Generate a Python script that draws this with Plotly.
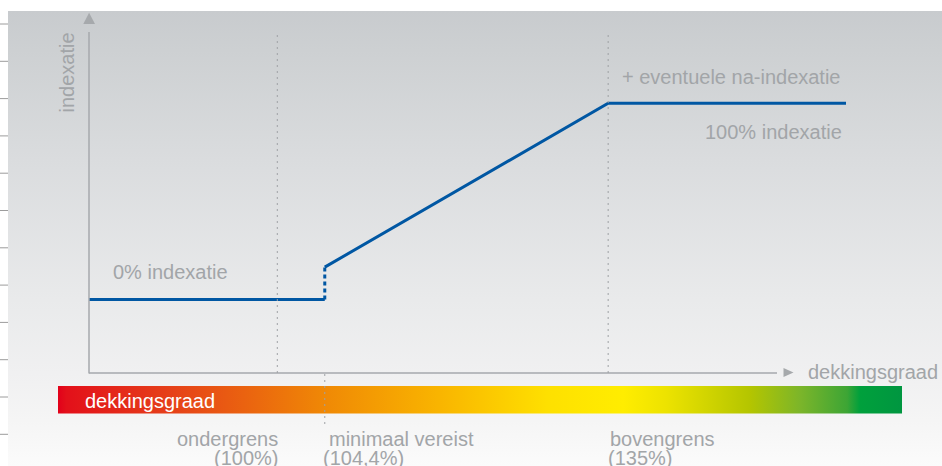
import math
import plotly.graph_objects as go

# Funding ratio (dekkingsgraad, %) against indexation (%) for the indexation policy line
dg_solid_low = [84.3, 104.4]
idx_solid_low = [0, 0]
dg_jump = [104.4, 104.4]
idx_jump = [0, 16.5]
dg_solid_high = [104.4, 135, 167.5]
idx_solid_high = [16.5, 100, 100]

# Thresholds on the funding-ratio axis
threshold_names = ["ondergrens", "minimaal vereist", "bovengrens"]
threshold_labels = ["(100%)", "(104,4%)", "(135%)"]
threshold_values = [100, 104.4, 135]

# Colour band along the funding-ratio axis
band_stops = [0.0, 0.01, 0.12, 0.22, 0.32, 0.45, 0.58, 0.67, 0.72, 0.82, 0.88, 0.935, 0.95, 1.0]
band_colors = ["#e2001a", "#e3101a", "#e53b1a", "#ea6210", "#f08a05", "#f9b400", "#fee000",
               "#ffed00", "#ede300", "#b4c500", "#7bb52a", "#3da535", "#00a03c", "#009640"]

W, H = 942, 466
GREY_TXT = "#a2a5a8"
AXIS_CLR = "#a6a9ac"
FONT = "Liberation Sans, Arial, Helvetica, sans-serif"

fig = go.Figure()

# Page background panel with a soft vertical grey gradient
fig.add_trace(go.Scatter(
    x=[8, W, W, 8, 8], y=[11, 11, H, H, 11], xaxis="x", yaxis="y",
    mode="lines", line=dict(width=0), fill="toself", hoverinfo="skip",
    fillgradient=dict(type="vertical", start=11, stop=H,
                      colorscale=[[0, "#c8cbce"], [0.086, "#cdd0d2"], [0.327, "#dadcde"],
                                  [0.635, "#e9eaeb"], [0.796, "#f0f0f1"], [0.9, "#f5f5f5"],
                                  [1, "#fbfbfb"]]),
))

# Red-to-green funding-ratio band
fig.add_trace(go.Scatter(
    x=[58, 902, 902, 58, 58], y=[386, 386, 413.5, 413.5, 386], xaxis="x", yaxis="y",
    mode="lines", line=dict(width=0), fill="toself", hoverinfo="skip",
    fillgradient=dict(type="horizontal", start=58, stop=902,
                      colorscale=[[s, c] for s, c in zip(band_stops, band_colors)]),
))

BLUE = "#0057a3"
fig.add_trace(go.Scatter(x=dg_solid_low, y=idx_solid_low, xaxis="x2", yaxis="y2",
                         mode="lines", line=dict(color=BLUE, width=3), hoverinfo="skip"))
fig.add_trace(go.Scatter(x=dg_jump, y=idx_jump, xaxis="x2", yaxis="y2",
                         mode="lines", line=dict(color=BLUE, width=3, dash="4px,3px"),
                         hoverinfo="skip"))
fig.add_trace(go.Scatter(x=dg_solid_high, y=idx_solid_high, xaxis="x2", yaxis="y2",
                         mode="lines", line=dict(color=BLUE, width=3), hoverinfo="skip"))

shapes = []
# Ruler marks along the left page edge
for k in range(12):
    yy = 24 + k * 37.3
    shapes.append(dict(type="line", xref="x", yref="y", x0=0, x1=8, y0=yy, y1=yy,
                       line=dict(color="#9c9c9c", width=1), layer="above"))

# Axis lines with arrowheads
shapes += [
    dict(type="line", xref="x", yref="y", x0=89, x1=89, y0=32, y1=373.5,
         line=dict(color=AXIS_CLR, width=1.5), layer="above"),
    dict(type="line", xref="x", yref="y", x0=89, x1=777, y0=373, y1=373,
         line=dict(color=AXIS_CLR, width=1.5), layer="above"),
    dict(type="path", xref="x", yref="y", path="M 83.3 24 L 89.1 12.7 L 95 24 Z",
         fillcolor=AXIS_CLR, line=dict(width=0), layer="above"),
    dict(type="path", xref="x", yref="y", path="M 783.5 368 L 793.5 372.5 L 783.5 377 Z",
         fillcolor=AXIS_CLR, line=dict(width=0), layer="above"),
]

# Dotted threshold guides
dot = dict(color="#9fa2a5", width=1, dash="2px,4px")
shapes.append(dict(type="line", xref="x2", yref="y2 domain", x0=threshold_values[0],
                   x1=threshold_values[0], y0=0, y1=1, line=dot, layer="above"))
shapes.append(dict(type="line", xref="x2", yref="y", x0=threshold_values[1],
                   x1=threshold_values[1], y0=374, y1=424, line=dot, layer="above"))
shapes.append(dict(type="line", xref="x2", yref="y2 domain", x0=threshold_values[2],
                   x1=threshold_values[2], y0=0, y1=1, line=dot, layer="above"))

ann = []


def txt(text, x, y, xanchor, xref="x", color=GREY_TXT, size=20, xshift=0, angle=0):
    ann.append(dict(text=text, x=x, y=y, xref=xref, yref="y", xanchor=xanchor,
                    yanchor="middle", showarrow=False, xshift=xshift, textangle=angle,
                    font=dict(family=FONT, size=size, color=color)))


txt("indexatie", 66, 72.5, "center", angle=-90)
txt("0% indexatie", 111, 272, "left")
txt("+ eventuele na-indexatie", 843, 76.5, "right")
txt("100% indexatie", 844, 131.5, "right")
txt("dekkingsgraad", 806, 372, "left")
txt("dekkingsgraad", 83, 400.5, "left", color="#ffffff")

# Annotation positions on a log axis are given in log10 units
name_shift = [3, 2, 0]
label_shift = [3, -4, -2]
for i, (nm, lb, v) in enumerate(zip(threshold_names, threshold_labels, threshold_values)):
    anchor = "right" if i == 0 else "left"
    txt(nm, math.log10(v), 438.5, anchor, xref="x2", xshift=name_shift[i])
    txt(lb, math.log10(v), 457.5, anchor, xref="x2", xshift=label_shift[i])

y_lo, y_hi = -37.46, 136.34
fig.update_layout(
    width=W, height=H, margin=dict(l=0, r=0, t=0, b=0),
    paper_bgcolor="#ffffff", plot_bgcolor="rgba(0,0,0,0)",
    showlegend=False, hovermode=False,
    xaxis=dict(domain=[0, 1], range=[0, W], visible=False, fixedrange=True),
    yaxis=dict(domain=[0, 1], range=[H, 0], visible=False, fixedrange=True),
    xaxis2=dict(domain=[89 / W, 846 / W], type="log", anchor="y2", visible=False,
                range=[math.log10(dg_solid_low[0]), math.log10(dg_solid_high[-1])],
                fixedrange=True),
    yaxis2=dict(domain=[93 / H, 434 / H], range=[y_lo, y_hi], anchor="x2",
                visible=False, fixedrange=True),
    shapes=shapes, annotations=ann,
)

fig.write_html("out.html", config={"displayModeBar": False})
